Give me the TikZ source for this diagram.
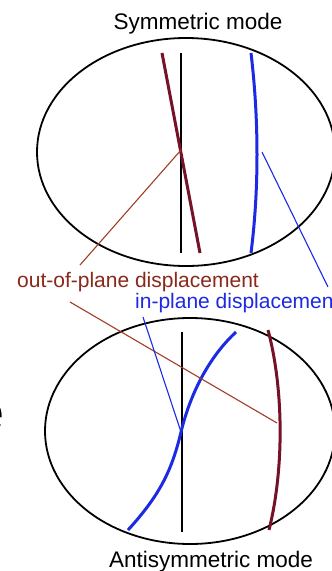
\documentclass[tikz,border=0pt]{standalone}
\usepackage{fontspec}
\setmainfont{Liberation Sans}
\usetikzlibrary{positioning}
\definecolor{modered}{RGB}{118,18,38}
\definecolor{leadbrown}{RGB}{160,62,38}
\definecolor{textbrown}{RGB}{138,40,26}
\definecolor{modeblue}{RGB}{28,42,228}

\begin{document}
\begin{tikzpicture}[x=1pt,y=-1pt,
  plate/.style={line width=1.8pt},
  axisline/.style={black,line width=1.3pt},
  outplane/.style={modered,line width=3pt},
  inplane/.style={modeblue,line width=3pt},
  leadred/.style={leadbrown,line width=1.1pt},
  leadblue/.style={modeblue,line width=1.1pt},
  caption/.style={inner sep=0pt,font=\fontsize{22.5}{27}\selectfont},
  legendtext/.style={inner sep=0pt,font=\fontsize{21}{25}\selectfont}]
  \useasboundingbox (0,0) rectangle (332,571);
  \fill[white] (0,0) rectangle (332,571);
  \clip (0,0) rectangle (332,571);

  % upper plate: symmetric mode
  \node[caption, anchor=base] (symcap) at (198,29) {Symmetric mode};
  \draw[plate] (186,152) ellipse [x radius=149, y radius=114];
  \draw[axisline] (181,53) -- (181,253);
  \draw[outplane] (162,53) -- (200,253);
  \draw[inplane] (251,53) .. controls (259,120) and (259,190) .. (251,253);
  \coordinate (symout) at (181,150);
  \coordinate (symin) at (262,152);

  % labels
  \node[legendtext, text=textbrown, anchor=base west] (outlabel) at (17,287) {out-of-plane displacement};
  \node[legendtext, text=modeblue, anchor=base west] (inlabel) at (135,308) {in-plane displacemen};
  \coordinate (outtop) at (80,265);
  \coordinate (outbot) at (70,302);
  \coordinate (intop) at (328,287);
  \coordinate (inbot) at (143,317);

  % lower plate: antisymmetric mode
  \draw[plate] (190,431) ellipse [x radius=145, y radius=113];
  \draw[axisline] (182,332) -- (182,532);
  \draw[inplane] (128,530) .. controls (160,495) and (172,470) .. (181,432)
                 .. controls (190,395) and (208,358) .. (236,332);
  \draw[outplane] (268,330) .. controls (284,390) and (284,470) .. (269,530);
  \coordinate (antiin) at (181,432);
  \coordinate (antiout) at (277,423);
  \node[caption, anchor=base] (anticap) at (211,567) {Antisymmetric mode};

  % leader lines
  \draw[leadred] (outtop) -- (symout);
  \draw[leadred] (outbot) -- (antiout);
  \draw[leadblue] (intop) -- (symin);
  \draw[leadblue] (inbot) -- (antiin);

  % cut-off letter at the left edge
  \node[inner sep=0pt, anchor=base east, font=\fontsize{56}{60}\selectfont] (cutletter) at (5,431) {e};
\end{tikzpicture}
\end{document}
